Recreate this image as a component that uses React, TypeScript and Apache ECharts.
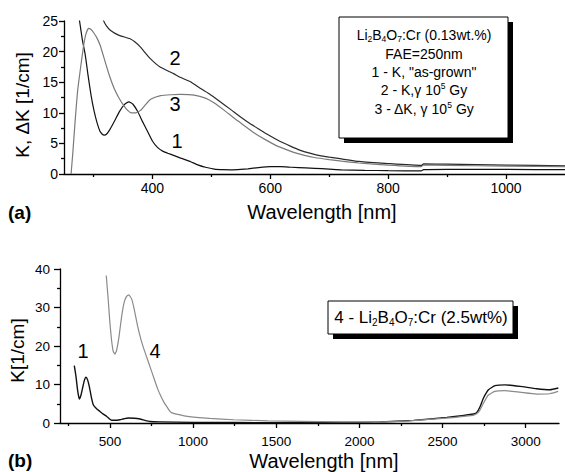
import React, { useEffect, useRef } from "react";
import * as echarts from "echarts";

// ---- Panel (a) data: wavelength [nm], K [1/cm] ----
const curve1Top: [number, number][] = [
  [270, 29], [276.4, 25], [281, 22], [286, 19.5], [291, 16], [296, 12.8], [301, 10.3],
  [306, 8.4], [311, 7.0], [315, 6.5], [318, 6.35], [322, 6.5], [328, 7.3], [336, 8.7],
  [344, 10.2], [352, 11.3], [360, 11.8], [367, 11.4], [375, 10.2], [383, 8.6], [392, 6.9],
  [400, 5.4], [409, 4.3], [418, 3.7], [426, 3.4], [437, 3.0], [448, 2.6], [465, 2.0],
  [477, 1.5], [490, 1.1], [505, 0.8], [520, 0.7], [533, 0.68], [550, 0.75], [562, 0.85],
  [580, 1.05], [600, 1.2], [618, 1.2], [636, 1.1], [660, 1.0], [675, 0.93], [700, 0.8],
  [721, 0.68], [760, 0.6], [800, 0.55], [856, 0.5], [860, 0.7], [900, 0.75], [1000, 0.75],
  [1100, 0.7],
];
const curve2Top: [number, number][] = [
  [313, 27], [317, 25.1], [322, 24.2], [328.5, 23.5], [342.5, 22.7], [362, 22.1], [370, 21.6],
  [379, 20.8], [396, 18.9], [413, 17.5], [436, 16.4], [447, 15.8], [464, 15.1], [481, 14.0],
  [498, 13.0], [515, 11.8], [532, 10.6], [549, 9.35], [566, 8.2], [583, 7.2], [600, 6.2],
  [617, 5.3], [634, 4.55], [650, 3.9], [667, 3.4], [684, 3.0], [700, 2.75], [718, 2.5],
  [750, 2.05], [800, 1.7], [856, 1.4], [860, 1.65], [900, 1.6], [1000, 1.45], [1100, 1.35],
];
const curve3Top: [number, number][] = [
  [262, 0], [265, 3.5], [269, 8.8], [273, 13.5], [277.6, 17], [283, 20.8], [287, 22.8],
  [291.5, 23.8], [296, 23.6], [301, 23], [306, 22.2], [311.5, 21.0], [319, 18.6], [327, 16.1],
  [335.5, 13.9], [344, 12.3], [352, 11.1], [358, 10.4], [364, 10.0], [372, 10.0], [380, 10.4],
  [388, 11.3], [397, 12.2], [414, 12.8], [431, 12.95], [448, 13.0], [471, 12.9], [490, 12.4],
  [505, 11.6], [522, 10.4], [539, 9.1], [556, 7.9], [573, 6.7], [590, 5.7], [607, 4.8],
  [624, 4.1], [641, 3.5], [658, 3.05], [675, 2.7], [700, 2.35], [721, 2.1], [750, 1.8],
  [800, 1.45], [856, 1.2], [860, 1.45], [900, 1.4], [1000, 1.3], [1100, 1.2],
];

// ---- Panel (b) data ----
const curve1Bottom: [number, number][] = [
  [286, 14.9], [296, 12.1], [306, 8.5], [316, 6.2], [326, 7.2], [336, 9.1], [346, 11.0],
  [356, 11.9], [366, 11.2], [376, 9.5], [388, 6.8], [400, 4.75], [420, 3.7], [440, 3.0],
  [460, 2.3], [481, 1.7], [496, 1.1], [511, 0.7], [535, 0.7], [560, 0.85], [585, 1.1],
  [610, 1.3], [645, 1.25], [681, 1.05], [710, 0.7], [741, 0.4], [800, 0.3], [1000, 0.15],
  [1500, 0.1], [2000, 0.15], [2126, 0.26], [2326, 0.68], [2526, 1.45], [2686, 2.34],
  [2706, 2.75], [2726, 4.3], [2746, 6.5], [2776, 8.65], [2816, 9.7], [2876, 9.9],
  [2966, 9.5], [3066, 8.9], [3146, 8.65], [3196, 9.1],
];
const curve4Bottom: [number, number][] = [
  [478, 38.3], [490, 32], [500, 26], [510, 21.5], [520, 18.6], [530, 17.9], [540, 18.8],
  [555, 22.5], [570, 27.5], [585, 31.2], [600, 32.9], [613, 33.3], [630, 32.3], [645, 29.8],
  [666, 25.3], [686, 21.8], [706, 19.0], [726, 16.5], [746, 14.0], [766, 11.5], [786, 9.0],
  [806, 7.0], [826, 5.3], [846, 4.0], [862, 3.0], [870, 2.7], [900, 2.3], [966, 1.7],
  [1100, 1.2], [1246, 0.85], [1450, 0.55], [1646, 0.42], [1900, 0.3], [2100, 0.25],
  [2300, 0.55], [2500, 1.2], [2684, 2.0], [2704, 2.4], [2724, 3.3], [2744, 5.0],
  [2774, 7.2], [2814, 8.2], [2874, 8.4], [2964, 8.0], [3065, 7.5], [3145, 7.6], [3195, 8.2],
];

// ---- Tick values ----
const topXMajor = [400, 600, 800, 1000];
const topXMinor = [300, 500, 700, 900];
const botXMajor = [500, 1000, 1500, 2000, 2500, 3000];
const botXMinor = [250, 750, 1250, 1750, 2250, 2750];

const FONT = "'Liberation Sans', Arial, sans-serif";
const AX = { color: "#000", width: 1.3 };
const plain = (v: number) => String(v);

function majorX(grid: number, min: number, max: number, vals: number[], margin: number, fs: number) {
  return {
    gridIndex: grid, type: "value", position: "bottom", min, max,
    axisLine: { show: true, onZero: false, lineStyle: AX },
    axisTick: { show: true, customValues: vals, length: 5, lineStyle: AX },
    axisLabel: { show: true, customValues: vals, formatter: plain, color: "#000", fontSize: fs, fontFamily: FONT, margin },
    splitLine: { show: false },
  };
}
function minorX(grid: number, min: number, max: number, vals: number[]) {
  return {
    gridIndex: grid, type: "value", position: "bottom", min, max,
    axisLine: { show: false, onZero: false },
    axisTick: { show: true, customValues: vals, length: 3, lineStyle: AX },
    axisLabel: { show: false },
    splitLine: { show: false },
  };
}

export default function App() {
  const ref = useRef<HTMLDivElement>(null);
  useEffect(() => {
    if (!ref.current) return;
    const chart = echarts.init(ref.current, null, { renderer: "svg" });
    const rich = {
      a: { fontSize: 14, fontFamily: FONT, lineHeight: 17, verticalAlign: "middle", fill: "#000", color: "#000" },
      s: { fontSize: 8.5, fontFamily: FONT, lineHeight: 17, verticalAlign: "bottom", fill: "#000", color: "#000" },
      p: { fontSize: 8.5, fontFamily: FONT, lineHeight: 17, verticalAlign: "top", fill: "#000", color: "#000" },
    };
    const rich2 = {
      a: { fontSize: 17, fontFamily: FONT, lineHeight: 20, verticalAlign: "middle", fill: "#000", color: "#000" },
      s: { fontSize: 10, fontFamily: FONT, lineHeight: 20, verticalAlign: "bottom", fill: "#000", color: "#000" },
    };
    const legendLines = [
      "{a|Li}{s|2}{a|B}{s|4}{a|O}{s|7}{a|:Cr (0.13wt.%)}",
      "{a|FAE=250nm}",
      '{a|1 - K, "as-grown"}',
      "{a|2 - K,γ 10}{p|5}{a| Gy}",
      "{a|3 - ΔK, γ 10}{p|5}{a| Gy}",
    ];
    const legendY = [35, 53.5, 72, 90, 108.5];
    const txt = (x: number, y: number, text: string, fontSize: number, extra: any = {}) => ({
      type: "text", x, y, silent: true, z: 100,
      ...extra,
      style: { text, fill: "#000", fontSize, fontFamily: FONT, align: "center", verticalAlign: "middle", ...(extra.style || {}) },
    });
    const line = (name: string, data: [number, number][], xi: number, yi: number, color: string, w = 1.2) => ({
      name, type: "line", data, xAxisIndex: xi, yAxisIndex: yi, showSymbol: false, symbol: "none",
      smooth: 0.15, lineStyle: { color, width: w }, clip: true, z: 2,
    });
    chart.setOption({
      animation: false,
      textStyle: { fontFamily: FONT },
      grid: [
        { left: 64, top: 21, right: 0, height: 153, containLabel: false },
        { left: 60, top: 269, right: 6, height: 154, containLabel: false },
      ],
      xAxis: [
        majorX(0, 250, 1100, topXMajor, 7, 14),
        minorX(0, 250, 1100, topXMinor),
        majorX(1, 200, 3200, botXMajor, 11, 13.5),
        minorX(1, 200, 3200, botXMinor),
      ],
      yAxis: [
        {
          gridIndex: 0, type: "value", min: 0, max: 25, interval: 5,
          axisLine: { show: true, lineStyle: AX },
          axisTick: { show: true, length: 5, lineStyle: AX },
          minorTick: { show: true, splitNumber: 2, length: 3, lineStyle: AX },
          axisLabel: { color: "#000", fontSize: 14, fontFamily: FONT, margin: 6, formatter: plain },
          splitLine: { show: false },
        },
        {
          gridIndex: 1, type: "value", min: 0, max: 40, interval: 10,
          axisLine: { show: true, lineStyle: AX },
          axisTick: { show: true, length: 6, lineStyle: AX },
          minorTick: { show: true, splitNumber: 2, length: 3, lineStyle: AX },
          axisLabel: { color: "#000", fontSize: 13.5, fontFamily: FONT, margin: 10, formatter: plain },
          splitLine: { show: false },
        },
      ],
      series: [
        line("1 - K, as-grown", curve1Top, 0, 0, "#111"),
        line("2 - K, γ 10^5 Gy", curve2Top, 0, 0, "#2a2a2a"),
        line("3 - ΔK, γ 10^5 Gy", curve3Top, 0, 0, "#7a7a7a"),
        line("1", curve1Bottom, 2, 1, "#111", 1.4),
        line("4", curve4Bottom, 2, 1, "#8a8a8a", 1.2),
      ],
      graphic: [
        // legend box (a)
        { type: "rect", shape: { x: 344, y: 22, width: 169, height: 121 }, style: { fill: "#000" }, z: 90, silent: true },
        { type: "rect", shape: { x: 339, y: 17, width: 169, height: 121 }, style: { fill: "#fff", stroke: "#000", lineWidth: 1 }, z: 91, silent: true },
        ...legendLines.map((t, i) => ({
          type: "text", x: 424, y: legendY[i], z: 100, silent: true,
          style: { text: t, rich, align: "center", verticalAlign: "middle", fill: "#000", fontSize: 14, fontFamily: FONT },
        })),
        // legend box (b)
        { type: "rect", shape: { x: 333, y: 306, width: 185, height: 33 }, style: { fill: "#000" }, z: 90, silent: true },
        { type: "rect", shape: { x: 328, y: 301, width: 185, height: 33 }, style: { fill: "#fff", stroke: "#000", lineWidth: 1 }, z: 91, silent: true },
        {
          type: "text", x: 421, y: 317.5, z: 100, silent: true,
          style: { text: "{a|4 - Li}{s|2}{a|B}{s|4}{a|O}{s|7}{a|:Cr (2.5wt%)}", rich: rich2, align: "center", verticalAlign: "middle", fill: "#000", fontSize: 17, fontFamily: FONT },
        },
        // curve labels
        txt(175, 57.5, "2", 20),
        txt(175, 104, "3", 20),
        txt(177, 141, "1", 20),
        txt(83, 351, "1", 20),
        txt(155, 351, "4", 20),
        // axis titles
        txt(322, 212, "Wavelength [nm]", 20),
        txt(324, 461, "Wavelength [nm]", 20),
        txt(22.5, 105, "K, ΔK [1/cm]", 19, { rotation: Math.PI / 2 }),
        txt(17.5, 350.5, "K[1/cm]", 19, { rotation: Math.PI / 2 }),
        // panel letters
        txt(8, 212, "(a)", 19, { style: { align: "left", fontWeight: "bold" } }),
        txt(8, 460, "(b)", 19, { style: { align: "left", fontWeight: "bold" } }),
      ],
    });
    return () => chart.dispose();
  }, []);
  return <div ref={ref} style={{ position: "fixed", left: 0, top: 0, width: 565, height: 472, background: "#fff" }} />;
}
